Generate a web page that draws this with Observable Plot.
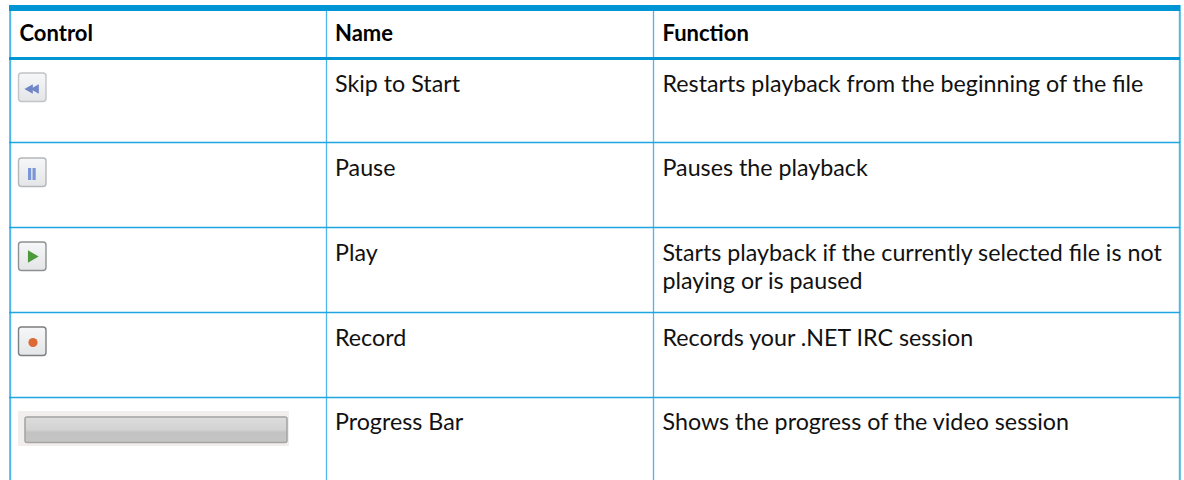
<!DOCTYPE html>
<html><head><meta charset="utf-8">
<script src="https://cdn.jsdelivr.net/npm/d3@7"></script>
<script src="https://cdn.jsdelivr.net/npm/@observablehq/plot@0.6"></script>
<style>html,body{margin:0;padding:0;background:#fff}svg{display:block}</style>
</head><body><div id="chart"></div>
<script>
const headers = ["Control", "Name", "Function"];
const names = ["Skip to Start", "Pause", "Play", "Record", "Progress Bar"];
const functions = [
  ["Restarts playback from the beginning of the file"],
  ["Pauses the playback"],
  ["Starts playback if the currently selected file is not", "playing or is paused"],
  ["Records your .NET IRC session"],
  ["Shows the progress of the video session"]
];

// Layout of the table, in pixels of the 1184x480 page
const colLine = [326, 653];
const colText = [19, 334.5, 662];
const rowLine = [142, 227, 312, 397];
const rowText = [84, 168, 253, 338, 422];
const iconTop = [73, 158, 242, 327];
const font = "Lato, sans-serif";

const nameRows = names.map((t, i) => ({t, x: colText[1], y: rowText[i]}));
const funcRows = functions.flatMap((ls, i) => ls.map((t, j) => ({t, x: colText[2], y: rowText[i] + j * 28})));
const headRows = headers.map((t, i) => ({t, x: colText[i], y: 33}));
const icons = iconTop.map((y, i) => ({y, i}));

const gradient = () => {
  const ns = "http://www.w3.org/2000/svg";
  const defs = document.createElementNS(ns, "defs");
  defs.innerHTML = `
  <linearGradient id="bar" x1="0" x2="0" y1="0" y2="1">
    <stop offset="0" stop-color="#dcdddc"/><stop offset=".5" stop-color="#d2d3d2"/>
    <stop offset=".6" stop-color="#c2c3c2"/><stop offset="1" stop-color="#c4c5c4"/>
  </linearGradient>
  <linearGradient id="btn" x1="0" x2="0" y1="0" y2="1">
    <stop offset="0" stop-color="#f6f7f8"/><stop offset="1" stop-color="#e4e5e7"/>
  </linearGradient>
  <filter id="soft" x="-30%" y="-30%" width="160%" height="160%"><feGaussianBlur stdDeviation="0.6"/></filter>`;
  return defs;
};
// soften the small bitmap-like controls
const soft = {render(i, s, v, d, c, next) {
  const g = next(i, s, v, d, c);
  g.setAttribute("filter", "url(#soft)");
  return g;
}};

const plot = Plot.plot({
  width: 1184, height: 480,
  marginTop: 0, marginRight: 0, marginBottom: 0, marginLeft: 0,
  x: {domain: [0, 1184], range: [0, 1184], axis: null},
  y: {domain: [0, 480], range: [0, 480], axis: null},
  style: {background: "#fff", fontFamily: font},
  marks: [
    gradient,
    // vertical rules
    Plot.ruleX([9.7], {y1: 5, y2: 480, stroke: "#4db5e8", strokeWidth: 2}),
    Plot.ruleX([1179.3], {y1: 5, y2: 480, stroke: "#4db5e8", strokeWidth: 2}),
    Plot.ruleX(colLine, {y1: 5, y2: 480, stroke: "#4db5e8", strokeWidth: 1.3}),
    // horizontal rules
    Plot.ruleY(rowLine, {x1: 9, x2: 1180, stroke: "#1fa6e2", strokeWidth: 1.6}),
    Plot.ruleY([58], {x1: 9, x2: 1180, stroke: "#0096d6", strokeWidth: 3}),
    Plot.ruleY([7.5], {x1: 9, x2: 1180, stroke: "#0096d6", strokeWidth: 6}),
    // progress bar
    Plot.rect([0], {x1: 18, x2: 289, y1: 411, y2: 446, fill: "#f2eeee"}),
    Plot.rect([0], {x1: 25, x2: 287, y1: 417, y2: 442.5, rx: 2, fill: "url(#bar)", stroke: "#a3a4a3", strokeWidth: 1.5, ...soft}),
    // buttons
    Plot.rect(icons, {x1: 18.5, x2: 46, y1: "y", y2: d => d.y + 28.5, rx: 3, fill: "url(#btn)", stroke: d => ["#c2c4c8", "#b5b6b8", "#8f9190", "#7d7e80"][d.i], strokeWidth: 1.4, ...soft}),
    // skip to start
    Plot.ruleX([25], {y1: 83, y2: 94, stroke: "#6f88c8", strokeWidth: 1.4, ...soft}),
    Plot.dot([29.5, 35.5], {x: d => d, y: 88.5, r: 3.6, symbol: "triangle", rotate: -90, fill: "#6f86c8", ...soft}),
    // pause
    Plot.rect([28, 32.5], {x1: d => d, x2: d => d + 3.2, y1: 168, y2: 180, fill: "#7b95d6", ...soft}),
    // play
    Plot.dot([0], {x: 31, y: 256, r: 4.6, symbol: "triangle", rotate: 90, fill: "#4d9a3c", ...soft}),
    // record
    Plot.dot([0], {x: 32.5, y: 342, r: 4.6, fill: "#dd6a35", ...soft}),
    // texts
    Plot.text(headRows, {x: "x", y: "y", text: "t", textAnchor: "start", fontSize: 22, fontWeight: 700, fill: "#000"}),
    Plot.text(nameRows, {x: "x", y: "y", text: "t", textAnchor: "start", fontSize: 23.25, fill: "#111"}),
    Plot.text(funcRows, {x: "x", y: "y", text: "t", textAnchor: "start", fontSize: 23.25, fill: "#111"})
  ]
});
document.getElementById("chart").append(plot);
</script></body></html>
